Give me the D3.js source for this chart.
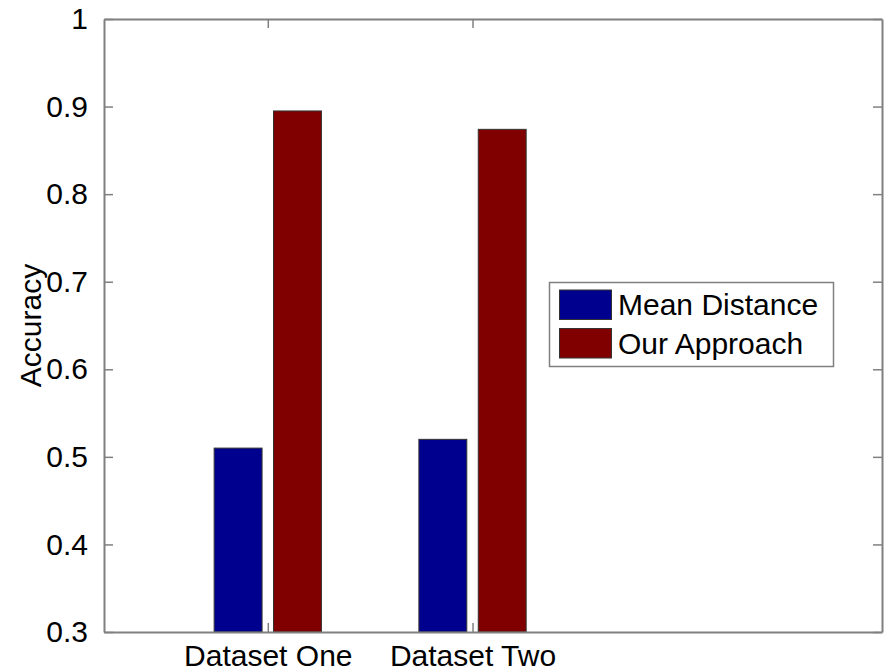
<!DOCTYPE html>
<html>
<head>
<meta charset="utf-8">
<script src="https://cdn.jsdelivr.net/npm/d3@7"></script>
<style>
  html, body { margin: 0; padding: 0; background: #fff; }
  text { font-family: "Liberation Sans", Arial, sans-serif; fill: #000; }
</style>
</head>
<body>
<svg id="chart" width="889" height="670"></svg>
<script>
const categories = ["Dataset One", "Dataset Two"];
const seriesNames = ["Mean Distance", "Our Approach"];
const meanDistance = [0.510, 0.520];
const ourApproach = [0.895, 0.874];
const yTicks = [0.3, 0.4, 0.5, 0.6, 0.7, 0.8, 0.9, 1];
const yTickLabels = ["0.3", "0.4", "0.5", "0.6", "0.7", "0.8", "0.9", "1"];
const colors = ["#00008f", "#800000"];

const series = [meanDistance, ourApproach];

const svg = d3.select("#chart");
const mLeft = 104, mRight = 882, mTop = 19, mBottom = 632;
const fs = 30;

const x = d3.scaleLinear().domain([0.2, 4]).range([mLeft, mRight]);
const y = d3.scaleLinear().domain([0.3, 1]).range([mBottom, mTop]);

const barW = 0.234;
const offsets = [-0.145, 0.145];

// bars
series.forEach((vals, si) => {
  svg.append("g").selectAll("rect")
    .data(vals)
    .join("rect")
    .attr("x", (d, i) => x(i + 1 + offsets[si] - barW / 2))
    .attr("width", x(barW) - x(0))
    .attr("y", d => y(d))
    .attr("height", d => y(0.3) - y(d))
    .attr("fill", colors[si])
    .attr("stroke", "#333")
    .attr("stroke-width", 1);
});

const axisColor = "#808080";
const yAxis = d3.axisLeft(y).tickValues(yTicks).tickFormat((d, i) => yTickLabels[i])
  .tickSizeInner(-9).tickSizeOuter(0).tickPadding(16);
const gy = svg.append("g").attr("transform", `translate(${mLeft},0)`).call(yAxis);
const yR = d3.axisRight(y).tickValues(yTicks).tickFormat("").tickSizeInner(-9).tickSizeOuter(0);
const gyr = svg.append("g").attr("transform", `translate(${mRight},0)`).call(yR);

const xAxis = d3.axisBottom(x).tickValues([1, 2]).tickFormat((d, i) => categories[i])
  .tickSizeInner(-9).tickSizeOuter(0).tickPadding(24);
const gx = svg.append("g").attr("transform", `translate(0,${mBottom})`).call(xAxis);
const xT = d3.axisTop(x).tickValues([1, 2]).tickFormat("").tickSizeInner(-9).tickSizeOuter(0);
const gxt = svg.append("g").attr("transform", `translate(0,${mTop})`).call(xT);

[gy, gyr, gx, gxt].forEach(g => {
  g.selectAll("path.domain").attr("stroke", axisColor).attr("stroke-width", 2);
  g.selectAll(".tick line").attr("stroke", axisColor).attr("stroke-width", 1.5);
  g.selectAll("text").attr("font-size", fs).attr("font-family", "Liberation Sans, Arial, sans-serif").attr("fill", "#000");
});
gx.selectAll("text").attr("dy", null).attr("y", 34);

// y label
svg.append("text")
  .attr("transform", `translate(41,${(mTop + mBottom) / 2}) rotate(-90)`)
  .attr("text-anchor", "middle")
  .attr("font-size", fs)
  .text("Accuracy");

// legend
const lg = svg.append("g");
lg.append("rect").attr("x", 549.5).attr("y", 282.5).attr("width", 284).attr("height", 84)
  .attr("fill", "#fff").attr("stroke", axisColor).attr("stroke-width", 1.5);
seriesNames.forEach((name, i) => {
  lg.append("rect").attr("x", 559.5).attr("y", 290 + i * 38.5).attr("width", 52).attr("height", 29.5)
    .attr("fill", colors[i]).attr("stroke", "#333").attr("stroke-width", 1);
  lg.append("text").attr("x", 618).attr("y", 315 + i * 38.5).attr("font-size", fs).text(name);
});
</script>
</body>
</html>
